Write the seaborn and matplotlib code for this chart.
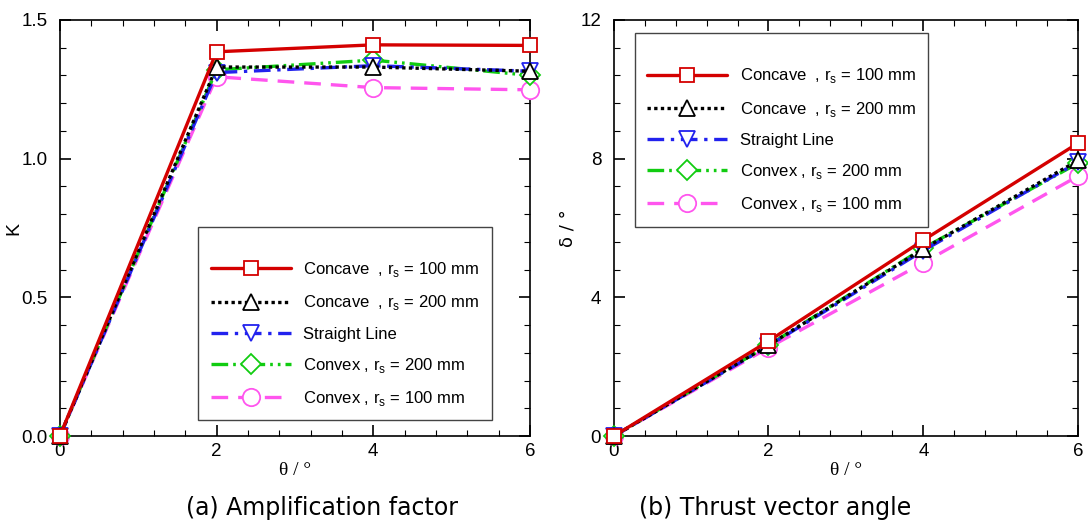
import numpy as np
import pandas as pd
import matplotlib
matplotlib.use("Agg")
import matplotlib.pyplot as plt
import seaborn as sns
from matplotlib.ticker import MultipleLocator

sns.set_theme(style="ticks")
plt.rcParams['font.family'] = ['Liberation Sans', 'DejaVu Sans']
plt.rcParams['mathtext.fontset'] = 'custom'
plt.rcParams['mathtext.rm'] = 'Liberation Sans'
plt.rcParams['text.color'] = 'black'
plt.rcParams['axes.labelcolor'] = 'black'

theta = [0, 2, 4, 6]
series_names = [
    "Concave  , r$_\\mathregular{s}$ = 100 mm",
    "Concave  , r$_\\mathregular{s}$ = 200 mm",
    "Straight Line",
    "Convex , r$_\\mathregular{s}$ = 200 mm",
    "Convex , r$_\\mathregular{s}$ = 100 mm",
]
K_concave100 = [0, 1.385, 1.41, 1.408]
K_concave200 = [0, 1.33, 1.33, 1.315]
K_straight = [0, 1.31, 1.335, 1.315]
K_convex200 = [0, 1.32, 1.355, 1.30]
K_convex100 = [0, 1.295, 1.256, 1.248]

d_concave100 = [0, 2.74, 5.65, 8.45]
d_concave200 = [0, 2.62, 5.40, 7.95]
d_straight = [0, 2.60, 5.35, 7.90]
d_convex200 = [0, 2.62, 5.42, 7.87]
d_convex100 = [0, 2.55, 5.00, 7.50]

colors = ["#d40000", "#000000", "#2222ee", "#11cc11", "#ff55ee"]
markers = ["s", "^", "v", "D", "o"]
msizes = [10.5, 11, 11, 10, 12.5]
styles = ["-", (0, (1, 1)), (0, (5, 2, 1, 2)), (0, (5, 1.5, 0.8, 1.5, 0.8, 1.5)), (0, (5, 3))]

fig = plt.figure(figsize=(10.88, 5.23), dpi=100)
ax1 = fig.add_axes([0.055, 0.166, 0.432, 0.796])
ax2 = fig.add_axes([0.564, 0.166, 0.427, 0.796])

Kdata = [K_concave100, K_concave200, K_straight, K_convex200, K_convex100]
Ddata = [d_concave100, d_concave200, d_straight, d_convex200, d_convex100]

for ax, data in [(ax1, Kdata), (ax2, Ddata)]:
    for i, vals in enumerate(data):
        df = pd.DataFrame({"x": theta, "y": vals})
        sns.lineplot(data=df, x="x", y="y", ax=ax, color=colors[i], linestyle=styles[i],
                     linewidth=2.4, marker=markers[i], markersize=msizes[i],
                     markerfacecolor="white", markeredgecolor=colors[i], markeredgewidth=1.3,
                     label=series_names[i], clip_on=False, zorder=3 + (4 - i) * 0.1)

ax1.set_xlim(0, 6)
ax1.set_ylim(0, 1.5)
ax1.xaxis.set_major_locator(MultipleLocator(2))
ax1.xaxis.set_minor_locator(MultipleLocator(0.4))
ax1.yaxis.set_major_locator(MultipleLocator(0.5))
ax1.yaxis.set_minor_locator(MultipleLocator(0.1))
ax1.yaxis.set_major_formatter(matplotlib.ticker.FormatStrFormatter('%.1f'))

ax2.set_xlim(0, 6)
ax2.set_ylim(0, 12)
ax2.xaxis.set_major_locator(MultipleLocator(2))
ax2.xaxis.set_minor_locator(MultipleLocator(0.4))
ax2.yaxis.set_major_locator(MultipleLocator(4))
ax2.yaxis.set_minor_locator(MultipleLocator(0.8))

for ax in (ax1, ax2):
    ax.tick_params(which='both', direction='in', top=True, right=True, labelsize=13.5, colors='black')
    ax.tick_params(which='major', length=8, width=1.2)
    ax.tick_params(which='minor', length=4, width=0.8)
    ax.tick_params(axis='y', which='major', pad=9)
    ax.tick_params(axis='x', which='major', pad=5)
    for s in ax.spines.values():
        s.set_linewidth(1.2)
        s.set_color('black')
    ax.set_xlabel("θ / °", fontsize=14, labelpad=1, family=['Liberation Serif', 'DejaVu Serif'])

ax1.set_ylabel("K", fontsize=14)
ax1.yaxis.set_label_coords(-0.079, 0.5)
ax2.set_ylabel("δ / °", fontsize=13, family=['DejaVu Sans'])
ax2.yaxis.set_label_coords(-0.08, 0.5)

leg_kw = dict(fontsize=12, frameon=True, fancybox=False, edgecolor='#444444',
              handlelength=4.8, handletextpad=0.75, labelspacing=0.85,
              borderpad=0.75, borderaxespad=0, framealpha=1, title=" ", title_fontsize=5)
l1 = ax1.legend(loc='lower left', bbox_to_anchor=(0.294, 0.038), **leg_kw)
l2 = ax2.legend(loc='upper left', bbox_to_anchor=(0.045, 0.969), **leg_kw)
for l in (l1, l2):
    l.get_frame().set_linewidth(1.0)
    for t in l.get_texts():
        t.set_color('black')

fig.text(0.296, 0.028, "(a) Amplification factor", ha='center', va='center', fontsize=17, family=['DejaVu Sans'])
fig.text(0.712, 0.028, "(b) Thrust vector angle", ha='center', va='center', fontsize=17, family=['DejaVu Sans'])

fig.savefig("out.png", dpi=100)
